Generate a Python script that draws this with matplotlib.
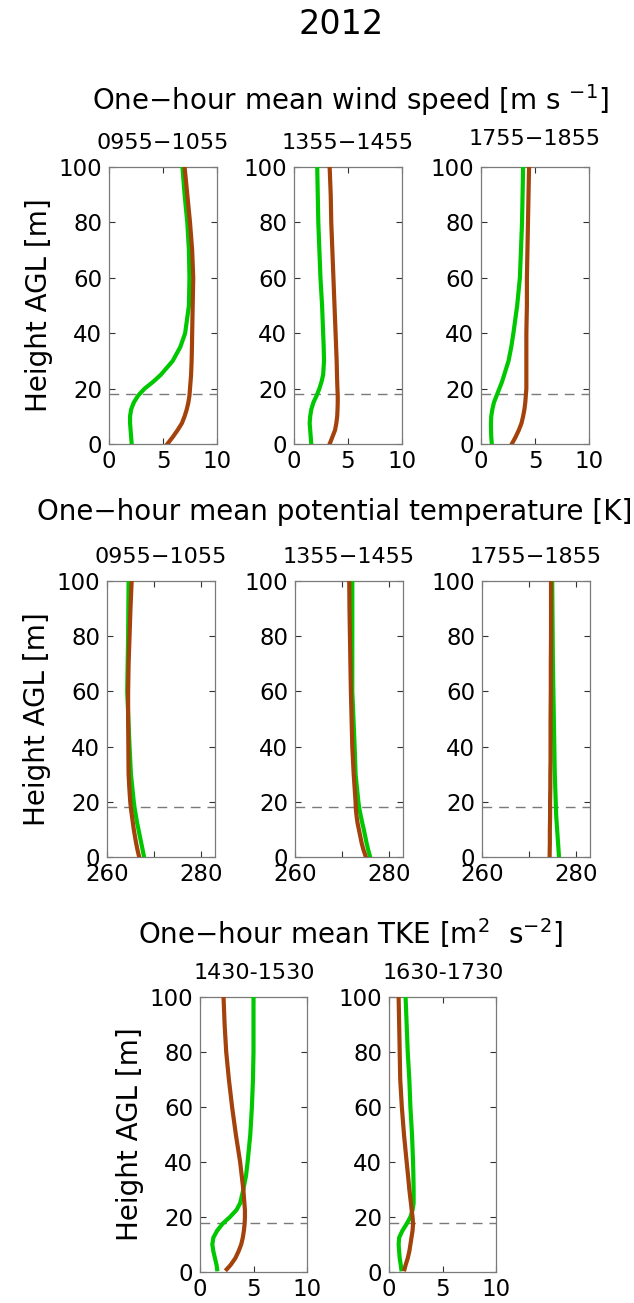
import matplotlib
matplotlib.use("Agg")
import matplotlib.pyplot as plt

plt.rcParams["font.family"] = ["DejaVu Sans"]
plt.rcParams["mathtext.fontset"] = "dejavusans"

GREEN, BROWN, SPINE = "#00c800", "#a3420b", "#7a7a7a"
W, H = 634, 1303

# ── heights [m] ──────────────────────────────────────────────
z = [0, 2.5, 5, 7.5, 10, 12.5, 15, 17.5, 20, 22.5, 25, 30, 35, 40, 50, 60, 70, 80, 90, 100]
z_tke = [1, 2.5, 5, 7.5, 10, 12.5, 15, 17.5, 20, 22.5, 25, 30, 35, 40, 50, 60, 70, 80, 90, 100]

# ── wind speed [m s-1] ───────────────────────────────────────
wind_titles = ["0955\u22121055", "1355\u22121455", "1755\u22121855"]
wind_green = [
    [2.1, 2.05, 2.0, 1.95, 1.95, 2.05, 2.3, 2.7, 3.3, 4.1, 4.8, 5.9, 6.6, 7.05, 7.4, 7.45, 7.4, 7.25, 7.0, 6.8],
    [1.6, 1.55, 1.5, 1.45, 1.5, 1.6, 1.8, 2.1, 2.35, 2.55, 2.7, 2.78, 2.75, 2.7, 2.6, 2.45, 2.35, 2.25, 2.2, 2.15],
    [1.0, 0.95, 0.93, 0.92, 0.95, 1.05, 1.2, 1.45, 1.7, 1.95, 2.15, 2.55, 2.8, 3.0, 3.35, 3.6, 3.7, 3.8, 3.85, 3.9],
]
wind_brown = [
    [5.4, 5.9, 6.35, 6.75, 7.0, 7.2, 7.35, 7.45, 7.5, 7.55, 7.6, 7.65, 7.68, 7.7, 7.75, 7.8, 7.7, 7.5, 7.25, 7.0],
    [3.3, 3.55, 3.8, 3.92, 4.0, 4.03, 4.05, 4.05, 4.02, 4.0, 3.98, 3.95, 3.9, 3.85, 3.75, 3.65, 3.55, 3.45, 3.4, 3.3],
    [2.85, 3.2, 3.5, 3.75, 3.9, 4.02, 4.1, 4.15, 4.2, 4.2, 4.2, 4.2, 4.2, 4.2, 4.25, 4.25, 4.3, 4.35, 4.4, 4.45],
]

# ── potential temperature [K] ────────────────────────────────
theta_titles = wind_titles
theta_green = [
    [267.9, 267.6, 267.3, 267.0, 266.7, 266.4, 266.15, 265.9, 265.7, 265.55, 265.4, 265.1, 264.95, 264.8,
     264.55, 264.3, 264.4, 264.5, 264.55, 264.6],
    [276.0, 275.6, 275.25, 274.95, 274.65, 274.3, 274.0, 273.7, 273.5, 273.35, 273.2, 272.9, 272.8, 272.7,
     272.45, 272.2, 272.2, 272.2, 272.2, 272.2],
    [276.4, 276.3, 276.2, 276.1, 276.0, 275.9, 275.8, 275.75, 275.7, 275.65, 275.6, 275.5, 275.45, 275.4,
     275.3, 275.2, 275.1, 275.05, 275.0, 274.95],
]
theta_brown = [
    [266.85, 266.5, 266.2, 265.95, 265.7, 265.5, 265.3, 265.1, 264.95, 264.85, 264.75, 264.6, 264.57, 264.55,
     264.5, 264.5, 264.6, 264.8, 265.0, 265.25],
    [275.1, 274.6, 274.2, 273.9, 273.6, 273.3, 273.1, 272.95, 272.9, 272.8, 272.7, 272.5, 272.35, 272.2,
     272.05, 271.9, 271.8, 271.7, 271.6, 271.55],
    [274.4, 274.42, 274.45, 274.45, 274.45, 274.48, 274.5, 274.5, 274.5, 274.52, 274.55, 274.55, 274.6, 274.6,
     274.6, 274.65, 274.65, 274.7, 274.7, 274.7],
]

# ── TKE [m2 s-2] ─────────────────────────────────────────────
tke_titles = ["1430-1530", "1630-1730"]
tke_green = [
    [1.6, 1.55, 1.4, 1.25, 1.15, 1.25, 1.6, 2.1, 2.8, 3.4, 3.75, 4.05, 4.3, 4.45, 4.7, 4.85, 4.95, 5.0, 5.0, 5.0],
    [1.15, 1.1, 1.0, 0.95, 0.9, 0.95, 1.25, 1.65, 2.0, 2.2, 2.3, 2.3, 2.28, 2.25, 2.15, 2.0, 1.9, 1.75, 1.65, 1.55],
]
tke_brown = [
    [2.5, 2.85, 3.3, 3.6, 3.85, 4.0, 4.1, 4.17, 4.2, 4.2, 4.15, 4.05, 3.9, 3.75, 3.35, 3.0, 2.7, 2.45, 2.3, 2.2],
    [1.45, 1.55, 1.75, 1.9, 2.0, 2.1, 2.2, 2.25, 2.2, 2.12, 2.05, 1.9, 1.78, 1.65, 1.4, 1.2, 1.05, 1.0, 0.95, 0.9],
]

BL_HEIGHT = 18  # dashed reference line

fig = plt.figure(figsize=(W / 100, H / 100), dpi=100)


def px_axes(left, top, right, bottom):
    return fig.add_axes([left / W, 1 - bottom / H, (right - left) / W, (bottom - top) / H])


def style(ax, xlim, xticks, xlabels, ylabel):
    ax.set_xlim(*xlim)
    ax.set_ylim(0, 100)
    ax.set_xticks(xticks)
    ax.set_xticklabels(xlabels)
    ax.set_yticks(range(0, 101, 20))
    ax.tick_params(direction="in", top=True, right=True, length=4, width=0.8,
                   color="#333333", labelsize=16.5, pad=5)
    ax.tick_params(axis="x", pad=4)
    for s in ax.spines.values():
        s.set_color(SPINE)
        s.set_linewidth(0.9)
    if ylabel:
        ax.set_ylabel("Height AGL [m]", fontsize=20, labelpad=4)


def panel(ax, zz, g, b):
    ax.axhline(BL_HEIGHT, color="#7a7a7a", lw=1.0, ls=(0, (7, 5)), zorder=1)
    ax.plot(g, zz, color=GREEN, lw=3.0, zorder=3, solid_joinstyle="round")
    ax.plot(b, zz, color=BROWN, lw=3.0, zorder=4, solid_joinstyle="round")


def ftext(x, y, s, size):
    fig.text(x / W, 1 - y / H, s, ha="center", va="center", fontsize=size)


ftext(341, 25, "2012", 24)

# row 1: wind speed
ftext(350, 100, "One\u2212hour mean wind speed [m s $^{-1}$]", 20)
lefts1 = [109, 294, 481]
for i, l in enumerate(lefts1):
    ax = px_axes(l, 167, l + 108, 444)
    panel(ax, z, wind_green[i], wind_brown[i])
    style(ax, (0, 10), [0, 5, 10], ["0", "5", "10"], i == 0)
    ftext(l + 54, 143 - (4 if i == 2 else 0), wind_titles[i], 16)

# row 2: potential temperature
ftext(335, 512, "One\u2212hour mean potential temperature [K]", 20)
lefts2 = [107, 295, 482]
for i, l in enumerate(lefts2):
    ax = px_axes(l, 581, l + 108, 857)
    panel(ax, z, theta_green[i], theta_brown[i])
    style(ax, (260, 283), [260, 270, 280], ["260", "", "280"], i == 0)
    ftext(l + 54, 557, theta_titles[i], 16)

# row 3: TKE
ftext(350, 933, "One\u2212hour mean TKE [m$^{2}$  s$^{-2}$]", 20)
lefts3 = [200, 389]
for i, l in enumerate(lefts3):
    ax = px_axes(l, 997, l + 107, 1272)
    panel(ax, z_tke, tke_green[i], tke_brown[i])
    style(ax, (0, 10), [0, 5, 10], ["0", "5", "10"], i == 0)
    ftext(l + 54, 973, tke_titles[i], 16)

fig.savefig("out.png", dpi=100, facecolor="white")
